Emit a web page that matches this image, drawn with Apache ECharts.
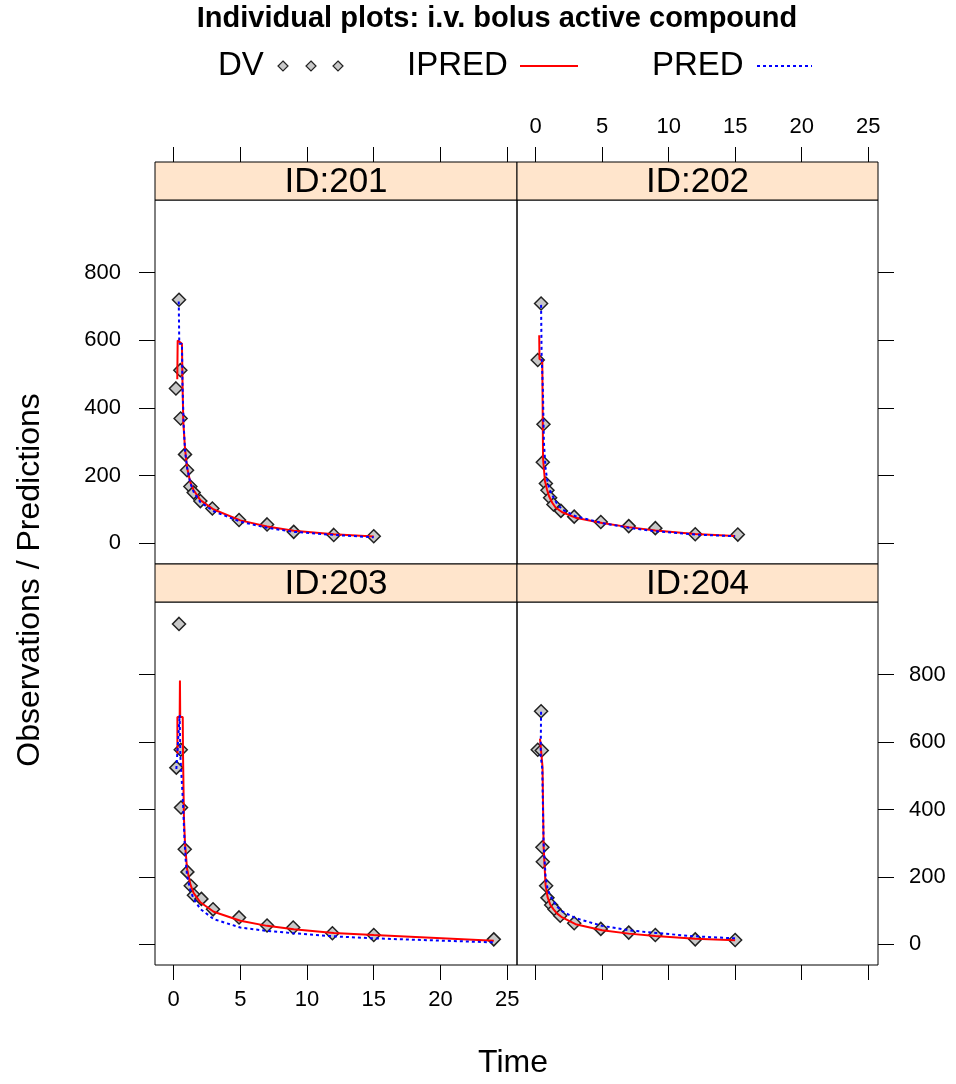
<!DOCTYPE html>
<html>
<head>
<meta charset="utf-8">
<script src="https://cdn.jsdelivr.net/npm/echarts@6/dist/echarts.min.js"></script>
<style>
  html, body { margin: 0; padding: 0; background: #fff; }
  #chart { width: 956px; height: 1084px; }
</style>
</head>
<body>
<div id="chart"></div>
<script>
// ---------- data ----------
const titleText = 'Individual plots: i.v. bolus active compound';
const panelIds = ['ID:201', 'ID:202', 'ID:203', 'ID:204'];
const xTicks = [0, 5, 10, 15, 20, 25];
const yTicks = [0, 200, 400, 600, 800];

const dv201Time = [0.17, 0.4, 0.5, 0.52, 0.85, 1.0, 1.25, 1.5, 2.0, 2.9, 4.9, 7, 9, 12, 15];
const dv201Conc = [458, 720, 512, 369, 263, 216, 168, 150, 125, 103, 69, 56, 34, 25, 21];
const ipred201Time = [0.27, 0.3, 0.62, 0.66, 0.72, 0.85, 1.0, 1.25, 1.5, 2, 3, 5, 7, 9, 12, 15];
const ipred201 = [485, 600, 590, 480, 360, 280, 225, 180, 157, 128, 100, 68, 50, 37, 27, 20];
const pred201Time = [0.38, 0.42, 0.62, 0.66, 0.75, 0.85, 1.0, 1.25, 1.5, 2, 3, 5, 7, 9, 12, 15];
const pred201 = [715, 590, 590, 470, 350, 275, 225, 178, 152, 122, 95, 64, 46, 34, 25, 18];

const dv202Time = [0.16, 0.41, 0.54, 0.59, 0.77, 0.89, 1.09, 1.34, 1.9, 2.9, 4.9, 7, 9, 12, 15.2];
const dv202Conc = [542, 709, 240, 352, 177, 157, 135, 115, 96, 79, 63, 51, 45, 27, 26];
const ipred202Time = [0.27, 0.29, 0.5, 0.56, 0.7, 0.85, 1.0, 1.25, 1.5, 2, 3, 5, 7, 9, 12, 15];
const ipred202 = [615, 545, 540, 250, 185, 160, 140, 120, 106, 92, 76, 60, 48, 38, 28, 22];
const pred202Time = [0.41, 0.45, 0.55, 0.62, 0.75, 0.9, 1.1, 1.35, 1.6, 2, 3, 5, 7, 9, 12, 15];
const pred202 = [705, 560, 450, 300, 220, 180, 155, 135, 118, 100, 80, 60, 46, 36, 26, 21];

const dv203Time = [0.2, 0.4, 0.53, 0.55, 0.83, 1.03, 1.28, 1.52, 2.08, 2.95, 4.9, 7, 8.96, 11.9, 15, 24];
const dv203Conc = [524, 950, 577, 406, 282, 215, 174, 146, 135, 104, 80, 56, 50, 33, 28, 15];
const ipred203Time = [0.28, 0.28, 0.45, 0.47, 0.49, 0.68, 0.7, 0.77, 0.85, 1.0, 1.25, 1.5, 2, 3, 5, 7, 9, 12, 15, 24];
const ipred203 = [566, 674, 674, 782, 674, 674, 566, 375, 300, 225, 178, 152, 125, 97, 70, 55, 45, 34, 28, 11];
const pred203Time = [0.2, 0.45, 0.5, 0.7, 0.8, 0.9, 1.0, 1.25, 1.5, 2, 3, 5, 7, 9, 12, 15, 24];
const pred203 = [520, 680, 560, 420, 320, 250, 205, 160, 135, 105, 75, 50, 40, 33, 24, 18, 6];

const dv204Time = [0.16, 0.41, 0.46, 0.51, 0.54, 0.79, 0.89, 1.17, 1.42, 1.85, 2.9, 4.9, 7, 9, 12, 15];
const dv204Conc = [577, 691, 575, 288, 245, 174, 138, 117, 104, 85, 63, 46, 35, 28, 15, 13];
const ipred204Time = [0.33, 0.45, 0.52, 0.6, 0.75, 0.9, 1.1, 1.35, 1.6, 2, 3, 5, 7, 9, 12, 15];
const ipred204 = [610, 556, 526, 290, 175, 140, 118, 104, 92, 80, 60, 42, 32, 25, 17, 12];
const pred204Time = [0.41, 0.38, 0.5, 0.6, 0.75, 0.9, 1.1, 1.35, 1.6, 2, 3, 5, 7, 9, 12, 15];
const pred204 = [690, 560, 520, 300, 200, 165, 145, 128, 112, 98, 78, 55, 42, 34, 24, 18];

// ---------- build ----------
const zip = (a, b) => a.map((v, i) => [v, b[i]]);
const panels = [
  { dv: zip(dv201Time, dv201Conc), ipred: zip(ipred201Time, ipred201), pred: zip(pred201Time, pred201) },
  { dv: zip(dv202Time, dv202Conc), ipred: zip(ipred202Time, ipred202), pred: zip(pred202Time, pred202) },
  { dv: zip(dv203Time, dv203Conc), ipred: zip(ipred203Time, ipred203), pred: zip(pred203Time, pred203) },
  { dv: zip(dv204Time, dv204Conc), ipred: zip(ipred204Time, ipred204), pred: zip(pred204Time, pred204) }
];

const FONT = "'Liberation Sans', Arial, Helvetica, sans-serif";
const XMIN = -1.4, XMAX = 25.74, YMIN = -61, YMAX = 1015;
const STRIP_H = 38;
const boxes = [
  { left: 155, top: 200, width: 362, height: 364 },
  { left: 517, top: 200, width: 361, height: 364 },
  { left: 155, top: 602, width: 362, height: 363 },
  { left: 517, top: 602, width: 361, height: 363 }
];
const labelStyle = { fontFamily: FONT, fontSize: 22, color: '#000' };

const grids = boxes.map(b => ({ left: b.left, top: b.top, width: b.width, height: b.height,
  show: true, borderColor: '#000', borderWidth: 1, backgroundColor: 'transparent', containLabel: false }));

// x axes: TL top (ticks only, above strip), TR top (ticks+labels), BL bottom (ticks+labels), BR bottom (ticks)
const xCfg = [
  { position: 'top', offset: STRIP_H, labels: false },
  { position: 'top', offset: STRIP_H, labels: true },
  { position: 'bottom', offset: 0, labels: true },
  { position: 'bottom', offset: 0, labels: false }
];
const xAxes = xCfg.map((c, i) => ({
  gridIndex: i, type: 'value', min: XMIN, max: XMAX, position: c.position, offset: c.offset,
  axisLine: { show: false, onZero: false },
  axisTick: { show: true, inside: false, length: 15, customValues: xTicks, lineStyle: { color: '#000', width: 1 } },
  axisLabel: Object.assign({ show: c.labels, customValues: xTicks, margin: 24 }, labelStyle),
  splitLine: { show: false }
}));
// y axes: TL left labels, TR right ticks, BL left ticks, BR right labels
const yCfg = [
  { position: 'left', labels: true, margin: 34 },
  { position: 'right', labels: false, margin: 31 },
  { position: 'left', labels: false, margin: 34 },
  { position: 'right', labels: true, margin: 31 }
];
const yAxes = yCfg.map((c, i) => ({
  gridIndex: i, type: 'value', min: YMIN, max: YMAX, position: c.position,
  axisLine: { show: false, onZero: false },
  axisTick: { show: true, inside: false, length: 16, customValues: yTicks, lineStyle: { color: '#000', width: 1 } },
  axisLabel: Object.assign({ show: c.labels, customValues: yTicks, margin: c.margin }, labelStyle),
  splitLine: { show: false }
}));

const series = [];
panels.forEach((p, i) => {
  series.push({ type: 'scatter', name: 'DV', xAxisIndex: i, yAxisIndex: i, data: p.dv,
    symbol: 'diamond', symbolSize: [13, 13], z: 2,
    itemStyle: { color: '#c8c8c8', borderColor: '#222', borderWidth: 1.5, opacity: 1 } });
  series.push({ type: 'line', name: 'IPRED', xAxisIndex: i, yAxisIndex: i, data: p.ipred,
    showSymbol: false, symbol: 'none', z: 3,
    lineStyle: { color: '#ff0000', width: 2 } });
  series.push({ type: 'line', name: 'PRED', xAxisIndex: i, yAxisIndex: i, data: p.pred,
    showSymbol: false, symbol: 'none', z: 4,
    lineStyle: { color: '#0000ff', width: 2, type: [3, 3] } });
});

// strips, titles and key
const graphics = [];
boxes.forEach((b, i) => {
  graphics.push({ type: 'rect', z: 10, shape: { x: b.left, y: b.top - STRIP_H, width: b.width, height: STRIP_H },
    style: { fill: '#ffe5cc', stroke: '#000', lineWidth: 1 } });
  graphics.push({ type: 'text', z: 11, x: b.left + b.width / 2, y: b.top - STRIP_H / 2 + 1,
    style: { text: panelIds[i], font: '35px ' + FONT, fill: '#000', align: 'center', verticalAlign: 'middle' } });
});
graphics.push({ type: 'text', x: 497, y: 19,
  style: { text: titleText, font: 'bold 29px ' + FONT, fill: '#000', align: 'center', verticalAlign: 'middle' } });
// key
const keyY = 66;
graphics.push({ type: 'text', x: 218, y: keyY, style: { text: 'DV', font: '33px ' + FONT, fill: '#000', align: 'left', verticalAlign: 'middle' } });
[283, 311, 338].forEach(cx => {
  graphics.push({ type: 'polygon', shape: { points: [[cx, keyY - 5], [cx + 5, keyY], [cx, keyY + 5], [cx - 5, keyY]] },
    style: { fill: '#c8c8c8', stroke: '#222', lineWidth: 1.2 } });
});
graphics.push({ type: 'text', x: 407, y: keyY, style: { text: 'IPRED', font: '33px ' + FONT, fill: '#000', align: 'left', verticalAlign: 'middle' } });
graphics.push({ type: 'line', shape: { x1: 520, y1: keyY, x2: 578, y2: keyY }, style: { stroke: '#ff0000', lineWidth: 2 } });
graphics.push({ type: 'text', x: 652, y: keyY, style: { text: 'PRED', font: '33px ' + FONT, fill: '#000', align: 'left', verticalAlign: 'middle' } });
graphics.push({ type: 'line', shape: { x1: 757, y1: keyY, x2: 812, y2: keyY }, style: { stroke: '#0000ff', lineWidth: 2, lineDash: [3, 3] } });
// axis titles
graphics.push({ type: 'text', x: 513, y: 1063, style: { text: 'Time', font: '32px ' + FONT, fill: '#000', align: 'center', verticalAlign: 'middle' } });
graphics.push({ type: 'text', x: 30, y: 580, rotation: Math.PI / 2,
  style: { text: 'Observations / Predictions', font: '32px ' + FONT, fill: '#000', align: 'center', verticalAlign: 'middle' } });

const chart = echarts.init(document.getElementById('chart'), null, { renderer: 'canvas' });
chart.setOption({
  animation: false,
  backgroundColor: '#fff',
  grid: grids,
  xAxis: xAxes,
  yAxis: yAxes,
  series: series,
  graphic: graphics
});
</script>
</body>
</html>
